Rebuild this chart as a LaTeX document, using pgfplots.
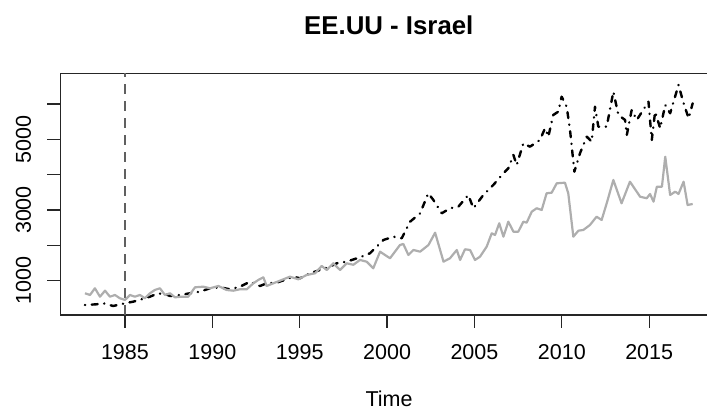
\documentclass[border=0pt]{standalone}
\usepackage{fontspec}
\setmainfont{Liberation Sans}
\usepackage{pgfplots}
\pgfplotsset{compat=1.18}
\definecolor{lgray}{HTML}{AEAEAE}
\definecolor{vgray}{HTML}{606060}
\begin{document}
\begin{tikzpicture}[x=1pt,y=1pt]
\useasboundingbox (0,0) rectangle (707,411);
\begin{axis}[
  at={(60.3pt,96pt)}, anchor=south west,
  width=646.7pt, height=241.7pt, scale only axis,
  xmin=1981.30, xmax=2018.31, ymin=29, ymax=6869,
  axis x line=box, axis y line=left,
  x axis line style={-}, y axis line style={-},
  axis line style={line width=1.3pt, color=black!85},
  xtick={1985,1990,1995,2000,2005,2010,2015},
  xticklabels={1985,1990,1995,2000,2005,2010,2015},
  ytick={1000,2000,3000,4000,5000,6000},
  yticklabels={1000,{},3000,{},5000,{}},
  tick align=outside, major tick length=13pt,
  xtick pos=bottom, ytick pos=left,
  tick style={line width=1.3pt, color=black!85},
  xticklabel style={font=\fontsize{21.5}{25}\selectfont, inner sep=0pt, anchor=north, yshift=-16pt},
  yticklabel style={font=\fontsize{21.5}{25}\selectfont, xshift=-16pt, rotate=90, anchor=south, inner sep=0pt},
  clip=true,
]
\addplot[vgray, line width=1.3pt, dash pattern=on 10pt off 7pt] coordinates {(1985,29) (1985,6869)};
\addplot[black, line width=2.4pt, line cap=round, line join=round, dash pattern=on 0.3pt off 6.5pt on 6pt off 6.5pt] coordinates {
(1982.71,312) (1983.38,332) (1983.76,360) (1984.33,284) (1985.00,360) (1985.47,406)
(1985.96,474) (1986.43,547) (1986.81,624) (1987.19,643) (1987.58,567) (1988.15,595)
(1988.72,643) (1989.29,689) (1989.87,785) (1990.44,813) (1991.01,757) (1991.58,830)
(1992.16,972) (1992.73,850) (1993.11,926) (1993.68,943) (1994.25,1040) (1994.63,1113)
(1995.02,1068) (1995.59,1209) (1996.16,1303) (1996.73,1396) (1997.12,1492) (1997.69,1538)
(1998.07,1600) (1998.55,1680) (1999.02,1775) (1999.79,2152) (2000.36,2245) (2000.84,2200)
(2001.32,2670) (2001.89,2907) (2002.36,3473) (2002.65,3284) (2003.13,2907) (2003.60,3049)
(2004.08,3094) (2004.65,3425) (2004.94,3049) (2005.51,3425) (2006.08,3708) (2006.66,4039)
(2006.94,4181) (2007.23,4557) (2007.42,4274) (2007.80,4888) (2008.18,4792) (2008.75,4982)
(2009.04,5313) (2009.23,5075) (2009.51,5689) (2009.80,5783) (2009.99,6207) (2010.28,5924)
(2010.47,5265) (2010.72,4085) (2011.04,4605) (2011.43,5075) (2011.71,4934) (2011.90,5924)
(2012.09,5358) (2012.57,5358) (2012.95,6349) (2013.24,5689) (2013.62,5548) (2013.72,5123)
(2014.00,5831) (2014.29,5548) (2014.96,6066) (2015.15,4982) (2015.34,5783) (2015.63,5313)
(2015.92,5972) (2016.20,5737) (2016.68,6538) (2016.97,6020) (2017.26,5596) (2017.49,6020)
};
\addplot[lgray, line width=2.2pt, line join=round] coordinates {
(1982.71,643) (1983.00,595) (1983.28,785) (1983.57,547) (1983.86,717) (1984.14,547)
(1984.43,595) (1984.71,502) (1985.00,454) (1985.29,595) (1985.57,547) (1985.86,595)
(1986.14,502) (1986.43,643) (1986.71,737) (1987.00,785) (1987.29,595) (1987.58,643)
(1987.86,530) (1988.24,547) (1988.62,547) (1989.01,813) (1989.49,830) (1989.87,785)
(1990.35,850) (1990.82,737) (1991.20,717) (1991.58,757) (1991.97,757) (1992.35,926)
(1992.63,1020) (1992.92,1096) (1993.11,850) (1993.49,926) (1993.97,1020) (1994.44,1113)
(1994.92,1040) (1995.40,1161) (1995.88,1209) (1996.26,1416) (1996.55,1303) (1996.92,1492)
(1997.31,1303) (1997.69,1492) (1998.07,1450) (1998.45,1586) (1998.83,1538) (1999.21,1351)
(1999.60,1821) (2000.17,1634) (2000.74,2010) (2000.93,2039) (2001.22,1727) (2001.51,1869)
(2001.89,1821) (2002.37,2010) (2002.75,2358) (2003.23,1538) (2003.60,1634) (2003.99,1869)
(2004.18,1586) (2004.46,1888) (2004.75,1869) (2005.03,1586) (2005.32,1679) (2005.70,1962)
(2005.99,2341) (2006.18,2293) (2006.42,2624) (2006.66,2245) (2006.94,2670) (2007.23,2387)
(2007.51,2387) (2007.80,2670) (2007.99,2641) (2008.28,2953) (2008.56,3049) (2008.85,3001)
(2009.13,3473) (2009.42,3490) (2009.71,3756) (2010.18,3773) (2010.37,3473) (2010.66,2245)
(2010.95,2415) (2011.23,2435) (2011.61,2576) (2011.99,2811) (2012.28,2718) (2012.57,3190)
(2012.95,3850) (2013.42,3190) (2013.90,3802) (2014.48,3377) (2014.86,3332) (2015.05,3454)
(2015.25,3236) (2015.44,3660) (2015.73,3660) (2015.92,4509) (2016.20,3425) (2016.49,3519)
(2016.68,3454) (2016.97,3802) (2017.20,3142) (2017.49,3171)
};
\end{axis}
\node[font=\bfseries\fontsize{25.8}{30}\selectfont, anchor=base, inner sep=0pt] at (388.8,376) {EE.UU - Israel};
\node[font=\fontsize{21.5}{25}\selectfont, anchor=base, inner sep=0pt] at (389,4.5) {Time};
\end{tikzpicture}
\end{document}
